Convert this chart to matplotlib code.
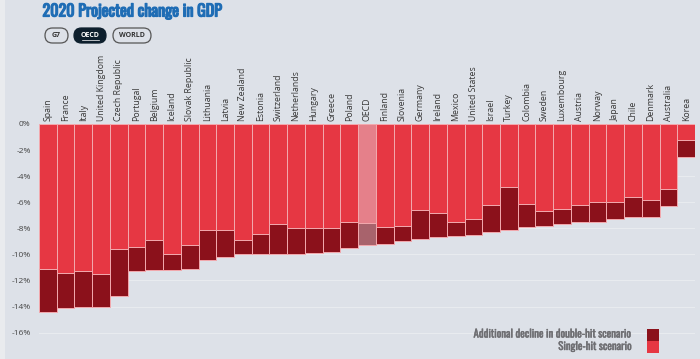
import matplotlib
matplotlib.use("Agg")
import matplotlib.pyplot as plt
import matplotlib.patheffects as pe
from matplotlib.patches import Rectangle, FancyBboxPatch
import numpy as np

# datos
countries = ["Spain", "France", "Italy", "United Kingdom", "Czech Republic", "Portugal",
             "Belgium", "Iceland", "Slovak Republic", "Lithuania", "Latvia", "New Zealand",
             "Estonia", "Switzerland", "Netherlands", "Hungary", "Greece", "Poland", "OECD",
             "Finland", "Slovenia", "Germany", "Ireland", "Mexico", "United States", "Israel",
             "Turkey", "Colombia", "Sweden", "Luxembourg", "Austria", "Norway", "Japan",
             "Chile", "Denmark", "Australia", "Korea"]
single_hit = [-11.1, -11.4, -11.3, -11.5, -9.6, -9.4, -8.9, -10.0, -9.3, -8.1, -8.1, -8.9,
              -8.4, -7.7, -8.0, -8.0, -8.0, -7.5, -7.6, -7.9, -7.8, -6.6, -6.8, -7.5,
              -7.3, -6.2, -4.8, -6.1, -6.7, -6.5, -6.2, -6.0, -6.0, -5.6, -5.8, -5.0, -1.2]
double_hit = [-14.4, -14.1, -14.0, -14.0, -13.2, -11.3, -11.2, -11.2, -11.1, -10.4, -10.2, -10.0,
              -10.0, -10.0, -10.0, -9.9, -9.8, -9.5, -9.3, -9.2, -9.0, -8.8, -8.7, -8.6,
              -8.5, -8.3, -8.1, -7.9, -7.8, -7.7, -7.5, -7.5, -7.3, -7.1, -7.1, -6.3, -2.5]
yticks = [0, -2, -4, -6, -8, -10, -12, -14, -16]
buttons = ["G7", "OECD", "WORLD"]

W, H = 700, 359
bg = "#dde1e8"
red = "#e63743"
dark = "#8b111b"
cond = ["Oswald", "DejaVu Sans"]

fig = plt.figure(figsize=(W / 100, H / 100), dpi=100)
fig.patch.set_facecolor(bg)

ax = fig.add_axes([39 / W, 0, (695 - 39) / W, (H - 124) / H])
ax.set_facecolor(bg)
x = np.arange(len(countries))
add = np.array(double_hit) - np.array(single_hit)
c1 = [("#e5808a" if c == "OECD" else red) for c in countries]
c2 = [("#a8636c" if c == "OECD" else dark) for c in countries]
ax.bar(x, single_hit, width=1, color=c1, edgecolor="#f3a9ae", linewidth=0.7, zorder=3)
ax.bar(x, add, bottom=single_hit, width=1, color=c2, edgecolor="#f3a9ae", linewidth=0.7, zorder=3)

ax.set_xlim(-0.5, len(countries) - 0.5)
ax.set_ylim(-(H - 124) / 13.04, 0)
ax.set_yticks(yticks)
ax.set_yticklabels([f"{t}%" for t in yticks], fontsize=6, color="#444444", family="Open Sans")
ax.tick_params(axis="y", length=0, pad=6)
ax.set_xticks([])
for s in ax.spines.values():
    s.set_visible(False)
ax.grid(axis="y", color="#e8ebef", linewidth=0.8, zorder=0)

# nombres de paises verticales
for i, c in enumerate(countries):
    ax.text(i, 1.012, c, transform=ax.get_xaxis_transform(), rotation=90, ha="center",
            va="bottom", fontsize=6.3, color="#383838", family="Open Sans", clip_on=False)

# capa overlay en pixeles (encima de todo)
ov = fig.add_axes([0, 0, 1, 1])
ov.set_zorder(5)
ov.set_xlim(0, W)
ov.set_ylim(H, 0)
ov.axis("off")
ov.add_patch(Rectangle((0, 0), 5, H, facecolor="#e9ebee", edgecolor="none"))

# titulo (Oswald con trazo para engrosar)
ov.text(42.5, 11, "2020 Projected change in GDP", fontsize=11.6, color="#1f6db5",
        va="center", ha="left", family=cond,
        path_effects=[pe.withStroke(linewidth=0.9, foreground="#1f6db5")])

# botones
spans = [(45, 68), (74, 106), (113, 151)]
for lab, (x0, x1) in zip(buttons, spans):
    sel = lab == "OECD"
    ov.add_patch(FancyBboxPatch((x0, 28), x1 - x0, 15,
                                boxstyle="round,pad=0,rounding_size=7.5",
                                facecolor="#0d1f2d" if sel else bg,
                                edgecolor="#0d1f2d" if sel else "#555555", linewidth=0.9))
    ov.text((x0 + x1) / 2, 35.8, lab, fontsize=5, fontweight="bold",
            color="white" if sel else "#333333", ha="center", va="center", family="Open Sans")
    if sel:
        ov.plot([x0 + 7.5, x1 - 7.5], [39.6, 39.6], color="white", lw=0.5)

# leyenda
legend = [("Additional decline in double-hit scenario", dark, 334.5),
          ("Single-hit scenario", red, 347)]
for lab, col, yc in legend:
    ov.text(632, yc, lab, fontsize=7.8, color="#6e6e72", ha="right", va="center", family=cond,
            path_effects=[pe.withStroke(linewidth=0.3, foreground="#6e6e72")])
ov.add_patch(Rectangle((647, 328.5), 12, 12.3, facecolor=dark, edgecolor="none"))
ov.add_patch(Rectangle((647, 340.8), 12, 12.3, facecolor=red, edgecolor="none"))

fig.savefig("out.png", dpi=100, facecolor=bg)
